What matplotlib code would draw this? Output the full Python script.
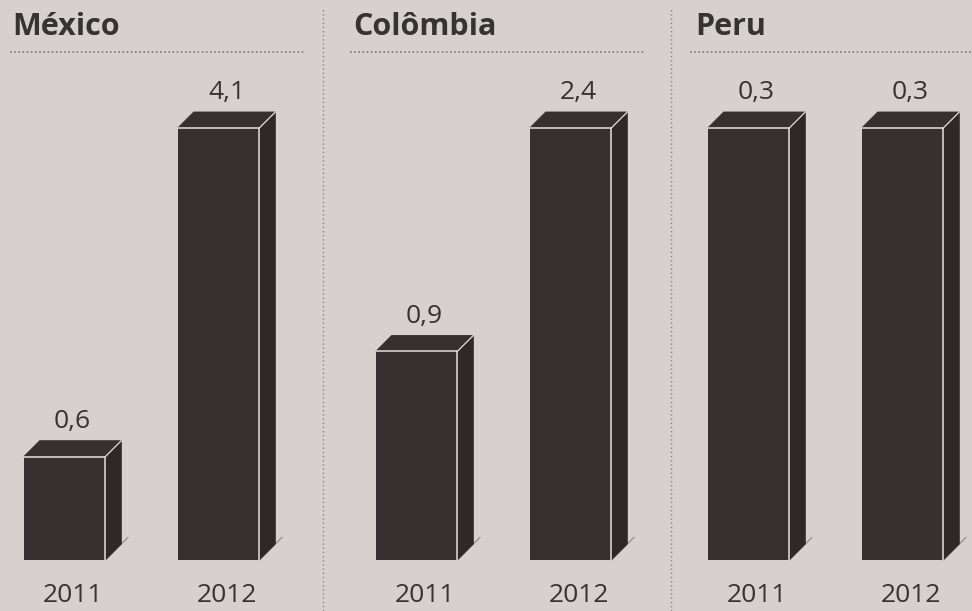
import matplotlib.pyplot as plt
from matplotlib.patches import Polygon
from matplotlib.lines import Line2D

plt.rcParams['font.family'] = ['Open Sans', 'DejaVu Sans']

# data
countries = ["México", "Colômbia", "Peru"]
years = ["2011", "2012"]
mexico = [0.6, 4.1]
colombia = [0.9, 2.4]
peru = [0.3, 0.3]
values = [mexico, colombia, peru]

bg = "#d6d1cf"
bar_col = "#383030"
side_col = "#2e2828"
line_col = "#e4e0de"
text_col = "#383333"

W, H = 972, 611
fig = plt.figure(figsize=(W / 100, H / 100), dpi=100)
fig.patch.set_facecolor(bg)

base = -0.5          # bars start a little below zero, like the print
bw = 0.53            # bar width in category units
depth = 16           # 3d depth in pixels
step = 154           # pixels between the two bars of a panel
centers = [64.5, 416.5, 748.5]
title_x = [12, 353, 695]
rule_x = [(10, 305), (350, 645), (690, 972)]

for i, vals in enumerate(values):
    left = centers[i] - 0.4 * step
    ax = fig.add_axes([left / W, 51 / H, 1.9 * step / W, 432 / H])
    ax.set_xlim(-0.4, 1.5)
    ax.set_ylim(base, max(vals))
    ax.axis("off")
    dx = depth / step
    dy = depth * (max(vals) - base) / 432
    for j, v in enumerate(vals):
        x0, x1 = j - bw / 2, j + bw / 2
        # shadow line at the foot
        ax.plot([x1, x1 + dx * 1.4], [base, base + dy * 1.4], color="#9a9494",
                lw=1, clip_on=False, zorder=1)
        ax.bar(j, v - base, bottom=base, width=bw, color=bar_col,
               linewidth=0, zorder=3)
        top = Polygon([(x0, v), (x1, v), (x1 + dx, v + dy), (x0 + dx, v + dy)],
                      closed=True, facecolor=bar_col, edgecolor=bar_col, lw=0.6,
                      clip_on=False, zorder=2)
        side = Polygon([(x1, base), (x1, v), (x1 + dx, v + dy), (x1 + dx, base + dy)],
                       closed=True, facecolor=side_col, edgecolor=side_col, lw=0.6,
                       clip_on=False, zorder=2)
        ax.add_patch(top)
        ax.add_patch(side)
        # light creases between the faces
        ax.plot([x0, x1, x1], [v, v, base], color=line_col, lw=1.1,
                clip_on=False, zorder=4)
        ax.plot([x1, x1 + dx], [v, v + dy], color=line_col, lw=0.9,
                clip_on=False, zorder=4)
        ax.annotate(f"{v:.1f}".replace(".", ","), (j + dx / 2, v + dy),
                    xytext=(0, 9), textcoords="offset points", ha="center",
                    va="baseline", fontsize=19, color=text_col,
                    annotation_clip=False)
        ax.annotate(years[j], (j + dx / 2, base), xytext=(0, -30),
                    textcoords="offset points", ha="center", va="baseline",
                    fontsize=19, color=text_col, annotation_clip=False)

    fig.text(title_x[i] / W, 1 - 35 / H, countries[i], fontsize=22,
             fontweight="bold", color=text_col, va="baseline", ha="left")
    xa, xb = rule_x[i]
    fig.add_artist(Line2D([xa / W, xb / W], [1 - 52 / H, 1 - 52 / H],
                          color="#7d7777", lw=1.2, linestyle=(0, (1, 1.5))))

# dotted separators between panels
for sx in [323, 671]:
    fig.add_artist(Line2D([sx / W, sx / W], [0, 1 - 8 / H], color="#8a8484",
                          lw=1, linestyle=(0, (1, 2))))

fig.savefig("out.png", dpi=100, facecolor=bg)
